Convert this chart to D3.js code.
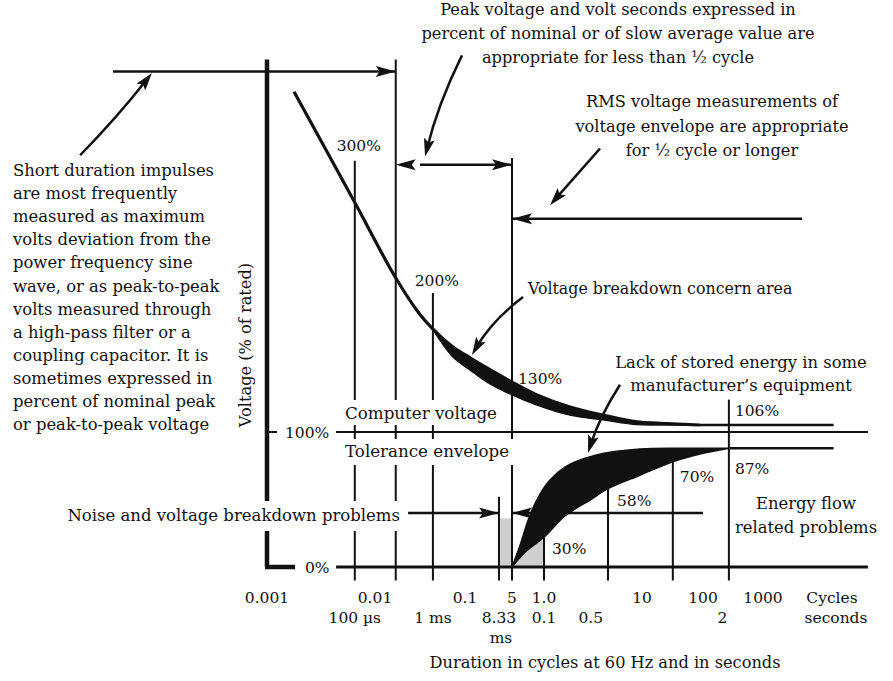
<!DOCTYPE html>
<html><head><meta charset="utf-8">
<script src="https://cdn.jsdelivr.net/npm/d3@7"></script>
<style>
body{margin:0;background:#fff;}
svg{display:block;}
text{font-family:"DejaVu Serif",serif;fill:#111;}
</style></head><body>
<svg id="c" width="893" height="681"></svg>
<script>
// ---------------- data ----------------
const cycleTickValues = [0.001, 0.01, 0.1, 0.5, 1, 10, 100, 1000];
const cycleTickLabels = ["0.001", "0.01", "0.1", "5", "1.0", "10", "100", "1000"];
const secondTickValues = [0.0065, 0.044, 0.32, 1, 3, 210];
const secondTickLabels = ["100 µs", "1 ms", "8.33", "0.1", "0.5", "2"];

const gridCycles = [0.0065, 0.017, 0.044, 0.32, 0.5, 1, 4.5, 32, 270];
const gridTopPct = [301, 376, 203, 52, 303, 22, 59, 78, 124];
const gridBottomPct = -10;

// upper curve (voltage breakdown concern area)
const upperOuterCycles = [0.00178, 0.0065, 0.0167, 0.0316, 0.043, 0.0736, 0.1187, 0.2124, 0.5, 0.859, 1.842, 4.0, 8.89, 19.7, 89.3];
const upperOuterPct    = [352, 270, 215, 187, 177, 163, 155, 147.5, 137, 127.5, 118.5, 112.5, 107.5, 106.5, 105.2];
const upperInnerCycles = [0.043, 0.0736, 0.1187, 0.2124, 0.5, 0.859, 1.842, 4.0, 8.89, 19.7, 89.3];
const upperInnerPct    = [177, 155.5, 146, 137, 127.5, 120, 112.5, 109, 105.5, 105.2, 105.2];
const upperTailCycles  = [89.3, 15000];
const upperTailPct     = [105.2, 105.2];

// lower curve (lack of stored energy)
const lowerUpperCycles = [0.5, 0.594, 0.738, 0.917, 1.151, 1.638, 2.62, 4.71, 9.55, 42, 271];
const lowerUpperPct    = [0, 16, 38.5, 54, 64.5, 74, 80.5, 85, 87.5, 88, 88];
const lowerLowerCycles = [0.5, 0.663, 1, 1.638, 2.95, 4.5, 9.55, 32, 89.3, 271];
const lowerLowerPct    = [0, 11, 22, 37.8, 49.6, 58, 68, 78, 83.7, 88];
const lowerTailCycles  = [271, 15000];
const lowerTailPct     = [88, 88];

// shaded noise region
const greyRectCycles = [0.32, 0.5];
const greyRectPct = [0, 36];

// reference lines
const refLineCycles = [0.00436, 56000];
const refLinePct = [100, 0];

const pctLabels = ["300%", "200%", "130%", "106%", "87%", "70%", "58%", "30%"];
const pctLabelAnchorCycles = [0.0065, 0.044, 0.5, 270, 270, 32, 4.5, 1];
const pctLabelAnchorPct = [301, 203, 130, 106, 87, 70, 58, 30];

const leftNote = ["Short duration impulses", "are most frequently", "measured as maximum",
  "volts deviation from the", "power frequency sine", "wave, or as peak-to-peak",
  "volts measured through", "a high-pass filter or a", "coupling capacitor. It is",
  "sometimes expressed in", "percent of nominal peak", "or peak-to-peak voltage"];
const peakNote = ["Peak voltage and volt seconds expressed in",
  "percent of nominal or of slow average value are", "appropriate for less than ½ cycle"];
const rmsNote = ["RMS voltage measurements of", "voltage envelope are appropriate", "for ½ cycle or longer"];
const lackNote = ["Lack of stored energy in some", "manufacturer’s equipment"];
const energyNote = ["Energy flow", "related problems"];

// ---------------- scales ----------------
const svg = d3.select("#c");
const x = d3.scaleLog()
  .domain([0.001, 0.01, 0.1, 0.5, 1, 10, 100, 1000])
  .range([267, 375, 465, 512, 544, 642, 703, 763]);
const y = d3.scaleLinear().domain([0, 100]).range([567, 432]);

const INK = "#111";
const zip = (cs, ps) => cs.map((c, i) => [c, ps[i]]);
const px = d => [x(d[0]), y(d[1])];

const gFill = svg.append("g"), gGrid = svg.append("g"), gAxis = svg.append("g"), gMask = svg.append("g"),
      gCurve = svg.append("g"), gArrow = svg.append("g"), gText = svg.append("g");

// grey region
gFill.append("rect")
  .attr("x", x(greyRectCycles[0])).attr("y", y(greyRectPct[1]))
  .attr("width", x(greyRectCycles[1]) - x(greyRectCycles[0]))
  .attr("height", y(greyRectPct[0]) - y(greyRectPct[1]))
  .attr("fill", "#cfcfcf");
const greyPoly = zip(lowerLowerCycles, lowerLowerPct).filter(d => d[0] <= 1).concat([[1, 0]]);
gFill.append("path")
  .attr("d", d3.line().x(d => x(d[0])).y(d => y(d[1])).curve(d3.curveLinear)(greyPoly) + "Z")
  .attr("fill", "#cfcfcf");

// vertical grid lines
gridCycles.forEach((c, i) => {
  gGrid.append("line")
    .attr("x1", x(c)).attr("x2", x(c))
    .attr("y1", y(gridTopPct[i])).attr("y2", y(gridBottomPct))
    .attr("stroke", INK).attr("stroke-width", 2);
});

// horizontal reference lines (100% and 0%)
gGrid.append("line").attr("x1", x(refLineCycles[0])).attr("x2", x(refLineCycles[1]))
  .attr("y1", y(refLinePct[0])).attr("y2", y(refLinePct[0])).attr("stroke", INK).attr("stroke-width", 2);
gGrid.append("line").attr("x1", x(refLineCycles[0])).attr("x2", x(refLineCycles[1]))
  .attr("y1", y(refLinePct[1])).attr("y2", y(refLinePct[1])).attr("stroke", INK).attr("stroke-width", 3);

// tails
gGrid.append("path").attr("d", d3.line().x(d => x(d[0])).y(d => y(d[1]))(zip(upperTailCycles, upperTailPct)))
  .attr("stroke", INK).attr("stroke-width", 2.5).attr("fill", "none");
gGrid.append("path").attr("d", d3.line().x(d => x(d[0])).y(d => y(d[1]))(zip(lowerTailCycles, lowerTailPct)))
  .attr("stroke", INK).attr("stroke-width", 2.5).attr("fill", "none");

// y axis (thick) and foot
gAxis.append("line").attr("x1", x(0.001)).attr("x2", x(0.001))
  .attr("y1", y(376)).attr("y2", y(0)).attr("stroke", INK).attr("stroke-width", 4.5);
gAxis.append("line").attr("x1", x(0.001) - 2).attr("x2", x(0.00182))
  .attr("y1", y(0)).attr("y2", y(0)).attr("stroke", INK).attr("stroke-width", 4.5);
gAxis.append("line").attr("x1", x(0.001)).attr("x2", x(0.001) + 10)
  .attr("y1", y(100)).attr("y2", y(100)).attr("stroke", INK).attr("stroke-width", 2);

// curves
const cat = d3.line().x(d => x(d[0])).y(d => y(d[1])).curve(d3.curveCatmullRom.alpha(0.5));
function band(top, bottom) {
  const a = cat(top);
  const b = cat(bottom.slice().reverse());
  return a + "L" + b.slice(1) + "Z";
}
gCurve.append("path").attr("d", band(zip(upperOuterCycles, upperOuterPct).slice(4), zip(upperInnerCycles, upperInnerPct)))
  .attr("fill", INK).attr("stroke", INK).attr("stroke-width", 1.5);
gCurve.append("path").attr("d", cat(zip(upperOuterCycles, upperOuterPct)))
  .attr("fill", "none").attr("stroke", INK).attr("stroke-width", 3.2);
gCurve.append("path").attr("d", band(zip(lowerUpperCycles, lowerUpperPct), zip(lowerLowerCycles, lowerLowerPct)))
  .attr("fill", INK).attr("stroke", INK).attr("stroke-width", 1.5);

// arrows
function head(g, tip, from, len = 20, w = 11) {
  const ang = Math.atan2(tip[1] - from[1], tip[0] - from[0]);
  const cx = Math.cos(ang), sy = Math.sin(ang);
  const bx = tip[0] - cx * len, by = tip[1] - sy * len;
  const p = [[tip[0], tip[1]], [bx - sy * w / 2, by + cx * w / 2], [tip[0] - cx * len * 0.8, tip[1] - sy * len * 0.8], [bx + sy * w / 2, by - cx * w / 2]];
  g.append("path").attr("d", "M" + p.map(q => q.join(",")).join("L") + "Z").attr("fill", INK);
}
function straightArrow(fromD, toD, withLine = true) {
  const a = px(fromD), b = px(toD);
  if (withLine) gArrow.append("line").attr("x1", a[0]).attr("y1", a[1]).attr("x2", b[0]).attr("y2", b[1])
    .attr("stroke", INK).attr("stroke-width", 2.5);
  head(gArrow, b, a);
}
function curvedArrow(fromD, toD, bend) {
  const a = px(fromD), b = px(toD);
  const dx = b[0] - a[0], dy = b[1] - a[1], L = Math.hypot(dx, dy);
  const c = [(a[0] + b[0]) / 2 - dy / L * bend, (a[1] + b[1]) / 2 + dx / L * bend];
  const t = 16 / L;
  const e = [b[0] - (b[0] - c[0]) * t, b[1] - (b[1] - c[1]) * t];
  gArrow.append("path").attr("d", `M${a}Q${c} ${e}`).attr("fill", "none").attr("stroke", INK).attr("stroke-width", 2.5);
  head(gArrow, b, c, 18, 11);
}

// straight dimension arrows
straightArrow([0.0000375, 367], [0.017, 367]);
straightArrow([0.0293, 298], [0.017, 298], false);
straightArrow([0.0316, 298], [0.5, 298]);
straightArrow([4470, 258], [0.5, 258]);
straightArrow([0.0233, 40], [0.32, 40]);
straightArrow([100, 40], [0.5, 40]);

// curved callout arrows
curvedArrow([1.86e-5, 305], [8.6e-5, 366], 3);
curvedArrow([0.0926, 379], [0.036, 304], 6);
curvedArrow([3.73, 310], [1.151, 268], 0);
curvedArrow([0.635, 200], [0.127, 157], 8);
curvedArrow([5.96, 135], [2.81, 84.4], 5);

// ---------------- text ----------------
const FS = 16.4, NS = 15.5;
function txt(g, s, X, Y, anchor = "start", size = FS) {
  return g.append("text").attr("x", X).attr("y", Y).attr("text-anchor", anchor).attr("font-size", size).text(s);
}
function masked(s, X, Y, anchor, pad, size) {
  const t = txt(gText, s, X, Y, anchor, size);
  const bb = t.node().getBBox();
  gMask.append("rect").attr("x", bb.x - pad[0]).attr("y", bb.y - pad[1])
    .attr("width", bb.width + pad[0] + pad[2]).attr("height", bb.height + pad[1] + pad[3]).attr("fill", "#fff");
  return t;
}

leftNote.forEach((s, i) => txt(gText, s, 13, 176 + i * 23.1));
peakNote.forEach((s, i) => txt(gText, s, 618, 15 + i * 24, "middle", 16.2));
rmsNote.forEach((s, i) => txt(gText, s, 712, 107 + i * 24.5, "middle", 16.2));
lackNote.forEach((s, i) => txt(gText, s, 741, 368 + i * 23, "middle"));
energyNote.forEach((s, i) => txt(gText, s, 806, 509 + i * 24, "middle"));
txt(gText, "Voltage breakdown concern area", 528, 294, "start", 15.8);

masked("Computer voltage", 345, 419, "start", [3, 3, 3, 2], 16.7);
masked("Tolerance envelope", 345, 457, "start", [3, 2, 6, 4], 16.7);
masked("Noise and voltage breakdown problems", 400, 521, "end", [4, 5, 4, 6], 16.5);

txt(gText, "100%", 285, 438, "start", NS);
txt(gText, "0%", 305, 573, "start", NS);
gText.append("text").attr("transform", "translate(251,345) rotate(-90)").attr("text-anchor", "middle")
  .attr("font-size", 16.2).text("Voltage (% of rated)");

// percent labels near curve corners
const pctDx = [4, 4, 6, 6, 6, 7, 9, 8];
const pctDy = [-10, -7, -8, -8, 24, 9, 17, 27];
const pctAnchor = ["middle", "middle", "start", "start", "start", "start", "start", "start"];
pctLabels.forEach((s, i) => txt(gText, s, x(pctLabelAnchorCycles[i]) + pctDx[i], y(pctLabelAnchorPct[i]) + pctDy[i], pctAnchor[i], NS));

// bottom tick labels
cycleTickValues.forEach((c, i) => txt(gText, cycleTickLabels[i], x(c), 603, "middle", NS));
secondTickValues.forEach((c, i) => txt(gText, secondTickLabels[i], x(c), 623, "middle", NS));
txt(gText, "ms", x(0.32) + 2, 643, "middle", NS);
txt(gText, "Cycles", x(1000) + 69, 603, "middle", NS);
txt(gText, "seconds", x(1000) + 73, 623, "middle", NS);
txt(gText, "Duration in cycles at 60 Hz and in seconds", 605, 668, "middle", 16.2);
</script>
</body></html>
